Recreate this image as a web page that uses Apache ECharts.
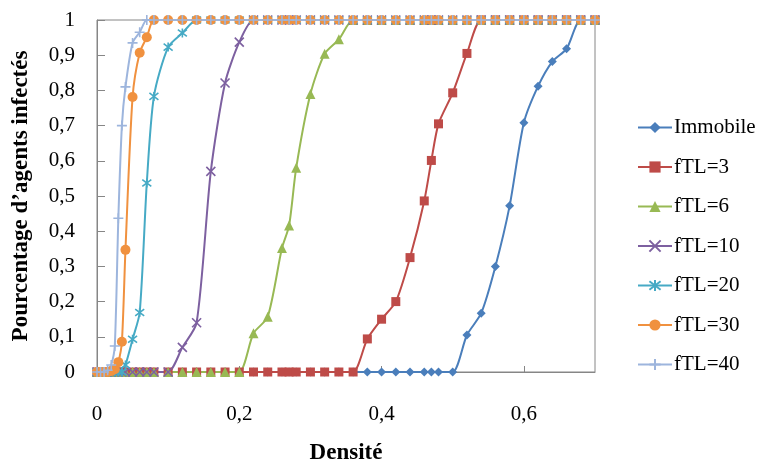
<!DOCTYPE html>
<html><head><meta charset="utf-8">
<script src="https://cdn.jsdelivr.net/npm/echarts@6/dist/echarts.min.js"></script>
<style>html,body{margin:0;padding:0;background:#fff}#c{width:762px;height:466px}</style>
</head><body><div id="c"></div>
<script>
var densite = [0, 0.005, 0.01, 0.015, 0.02, 0.025, 0.03, 0.035, 0.04, 0.05, 0.06, 0.07, 0.08, 0.1, 0.12, 0.14, 0.16, 0.18, 0.2, 0.22, 0.24, 0.26, 0.27, 0.28, 0.3, 0.32, 0.34, 0.36, 0.38, 0.4, 0.42, 0.44, 0.46, 0.47, 0.48, 0.5, 0.52, 0.54, 0.56, 0.58, 0.6, 0.62, 0.64, 0.66, 0.68, 0.7];
//                 0  .005 .01 .015 .02  .025  .03   .035  .04   .05   .06   .07   .08   .10   .12   .14   .16   .18   .20   .22   .24   .26   .27   .28   .30   .32   .34   .36   .38   .40   .42   .44   .46   .47   .48   .50   .52   .54   .56   .58   .60   .62   .64   .66   .68   .70
var immobile =   [0, 0,   0,  0,   0,   0,    0,    0,    0,    0,    0,    0,    0,    0,    0,    0,    0,    0,    0,    0,    0,    0,    0,    0,    0,    0,    0,    0,    0,    0,    0,    0,    0,    0,    0,    0,    0.105,0.167,0.30, 0.472,0.708,0.812,0.882,0.918,1,    1];
var ftl3 =       [0, 0,   0,  0,   0,   0,    0,    0,    0,    0,    0,    0,    0,    0,    0,    0,    0,    0,    0,    0,    0,    0,    0,    0,    0,    0,    0,    0,    0.094,0.15, 0.20, 0.325,0.486,0.601,0.705,0.793,0.905,1,    1,    1,    1,    1,    1,    1,    1,    1];
var ftl6 =       [0, 0,   0,  0,   0,   0,    0,    0,    0,    0,    0,    0,    0,    0,    0,    0,    0,    0,    0,    0.11, 0.157,0.352,0.416,0.58, 0.79, 0.904,0.945,1,    1,    1,    1,    1,    1,    1,    1,    1,    1,    1,    1,    1,    1,    1,    1,    1,    1,    1];
var ftl10 =      [0, 0,   0,  0,   0,   0,    0,    0,    0,    0,    0,    0,    0,    0,    0.07, 0.14, 0.57, 0.821,0.937,1,    1,    1,    1,    1,    1,    1,    1,    1,    1,    1,    1,    1,    1,    1,    1,    1,    1,    1,    1,    1,    1,    1,    1,    1,    1,    1];
var ftl20 =      [0, 0,   0,  0,   0,   0,    0,    0,    0.02, 0.093,0.169,0.537,0.783,0.923,0.963,1,    1,    1,    1,    1,    1,    1,    1,    1,    1,    1,    1,    1,    1,    1,    1,    1,    1,    1,    1,    1,    1,    1,    1,    1,    1,    1,    1,    1,    1,    1];
var ftl30 =      [0, 0,   0,  0,   0.003,0.008,0.028,0.086,0.347,0.781,0.907,0.951,1,    1,    1,    1,    1,    1,    1,    1,    1,    1,    1,    1,    1,    1,    1,    1,    1,    1,    1,    1,    1,    1,    1,    1,    1,    1,    1,    1,    1,    1,    1,    1,    1,    1];
var ftl40 =      [0, 0,   0,  0.005,0.02,0.074,0.437,0.70, 0.81, 0.935,0.965,1,    1,    1,    1,    1,    1,    1,    1,    1,    1,    1,    1,    1,    1,    1,    1,    1,    1,    1,    1,    1,    1,    1,    1,    1,    1,    1,    1,    1,    1,    1,    1,    1,    1,    1];
var seriesNames = ['Immobile', 'fTL=3', 'fTL=6', 'fTL=10', 'fTL=20', 'fTL=30', 'fTL=40'];
var xTicks = [0, 0.2, 0.4, 0.6];
var yTickLabels = ['0', '0,1', '0,2', '0,3', '0,4', '0,5', '0,6', '0,7', '0,8', '0,9', '1'];

var allValues = [immobile, ftl3, ftl6, ftl10, ftl20, ftl30, ftl40];
var colors = ['#4A7EBB', '#BE4B48', '#98B954', '#7D60A0', '#46AAC5', '#F0913F', '#9DB5DD'];
var symbols = ['diamond', 'rect', 'triangle',
  'path://M0,0L10,10M10,0L0,10',
  'path://M0,0L10,10M10,0L0,10M5,-1.5L5,11.5',
  'circle',
  'path://M5,0L5,10M0,5L10,5'];
var sizes = [9, 9, 10, 9, 9, 10, 10];
var stroked = [false, false, false, true, true, false, true];
var FONT = 'Liberation Serif';

var series = allValues.map(function (vals, i) {
  return {
    name: seriesNames[i],
    type: 'line',
    data: densite.map(function (x, k) { return [x, vals[k]]; }),
    smooth: 0.25,
    symbol: symbols[i],
    symbolSize: sizes[i],
    showAllSymbol: true,
    lineStyle: { color: colors[i], width: 2 },
    itemStyle: stroked[i]
      ? { color: 'rgba(0,0,0,0)', borderColor: colors[i], borderWidth: 1.6 }
      : { color: colors[i], borderColor: colors[i], borderWidth: 0 },
    emphasis: { disabled: true },
    animation: false
  };
});

var chart = echarts.init(document.getElementById('c'), null, { renderer: 'canvas' });
chart.setOption({
  animation: false,
  grid: { left: 97, right: 167, top: 20, bottom: 94, show: true, borderColor: '#868686', borderWidth: 1, outerBoundsMode: 'none', containLabel: false },
  legend: {
    orient: 'vertical', left: 632, top: 112,
    itemWidth: 34, itemHeight: 14, itemGap: 18.5,
    textStyle: { fontFamily: FONT, fontSize: 21, color: '#000', padding: [0, 0, 0, -3] },
    data: seriesNames
  },
  xAxis: {
    type: 'value', min: 0, max: 0.7, interval: 0.2,
    name: 'Densité', nameLocation: 'middle', nameGap: 70,
    nameTextStyle: { fontFamily: FONT, fontSize: 23, fontWeight: 'bold', color: '#000' },
    axisLine: { show: true, lineStyle: { color: '#868686', width: 1 } },
    axisTick: { show: true, inside: true, length: 6, lineStyle: { color: '#868686' } },
    axisLabel: {
      fontFamily: FONT, fontSize: 21, color: '#000', margin: 32, showMaxLabel: false,
      formatter: function (v) {
        for (var i = 0; i < xTicks.length; i++) if (Math.abs(v - xTicks[i]) < 1e-9) return String(xTicks[i]).replace('.', ',');
        return '';
      }
    },
    splitLine: { show: false }
  },
  yAxis: {
    type: 'value', min: 0, max: 1, interval: 0.1,
    name: 'Pourcentage d\u2019agents infectés', nameLocation: 'middle', nameGap: 64,
    nameTextStyle: { fontFamily: FONT, fontSize: 23, fontWeight: 'bold', color: '#000' },
    axisLine: { show: true, lineStyle: { color: '#868686', width: 1 } },
    axisTick: { show: true, inside: true, length: 8, lineStyle: { color: '#868686' } },
    axisLabel: {
      fontFamily: FONT, fontSize: 21, color: '#000', margin: 22,
      formatter: function (v) { return yTickLabels[Math.round(v * 10)]; }
    },
    splitLine: { show: false }
  },
  series: series
});
</script>
</body></html>
